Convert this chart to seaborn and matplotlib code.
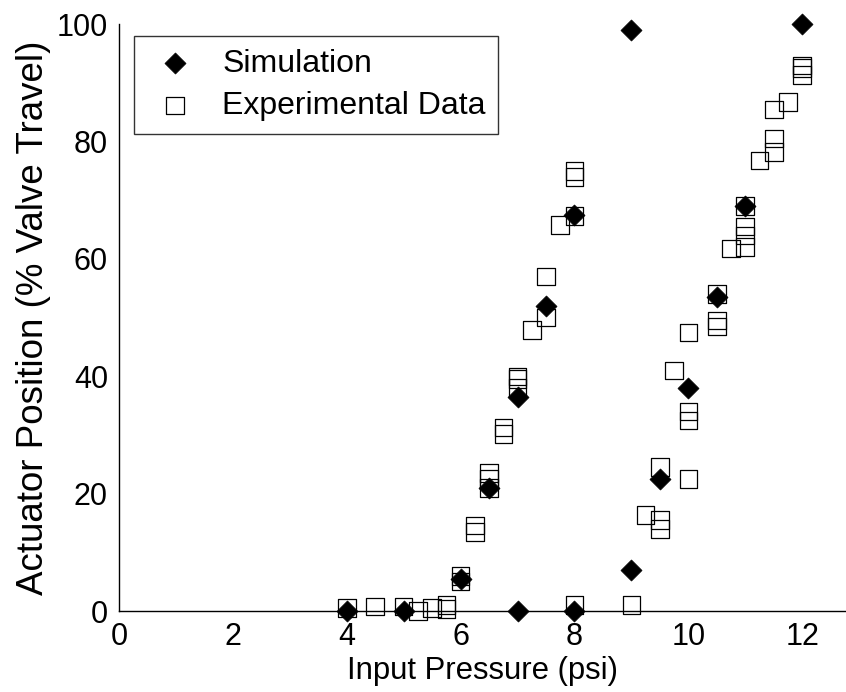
import matplotlib
matplotlib.use("Agg")
import matplotlib.pyplot as plt
import seaborn as sns
import pandas as pd

# Simulation (filled diamonds)
sim_x = [4, 5, 6, 6.5, 7, 7, 7.5, 8, 8, 9, 9, 9.5, 10, 10.5, 11, 12]
sim_y = [0, 0, 5.5, 21, 0, 36.5, 52, 67.5, 0, 99, 7, 22.5, 38, 53.5, 69, 100]

# Experimental data (open squares)
exp_x = [4.0, 4.5, 5.0, 5.25, 5.5, 5.75, 5.75,
         6.0, 6.0, 6.25, 6.25, 6.5, 6.5, 6.5,
         6.75, 6.75, 7.0, 7.0, 7.0, 7.25, 7.5, 7.5, 7.75,
         8.0, 8.0, 8.0, 8.0, 9.0, 9.25, 9.5, 9.5, 9.5, 9.75,
         10.0, 10.0, 10.0, 10.0, 10.5, 10.5, 10.5, 10.75,
         11.0, 11.0, 11.0, 11.0, 11.25, 11.5, 11.5, 11.5, 11.75,
         12.0, 12.0, 12.0]
exp_y = [0.5, 0.8, 0.8, 0.0, 0.5, 1.0, 0.3,
         6.0, 5.0, 14.6, 13.5, 23.5, 22.5, 21.0,
         31.3, 30.2, 38.0, 39.5, 40.0, 47.9, 50.0, 57.0, 65.8,
         67.3, 74.0, 75.0, 1.0, 1.0, 16.4, 24.5, 15.5, 14.0, 41.0,
         22.5, 32.5, 34.0, 47.5, 48.5, 49.5, 54.0, 61.8,
         62.0, 64.0, 65.5, 69.0, 76.8, 78.2, 80.5, 85.5, 86.7,
         91.3, 92.5, 93.0]

x_ticks = [0, 2, 4, 6, 8, 10, 12]
y_ticks = [0, 20, 40, 60, 80, 100]

sim_df = pd.DataFrame({"x": sim_x, "y": sim_y})
exp_df = pd.DataFrame({"x": exp_x, "y": exp_y})

sns.set_style("white")
plt.rcParams["font.family"] = ["Liberation Sans", "DejaVu Sans"]
plt.rcParams["text.color"] = "black"
plt.rcParams["axes.labelcolor"] = "black"

fig = plt.figure(figsize=(8.46, 6.92), dpi=100)
ax = fig.add_axes([0.1407, 0.117, 0.858, 0.848])

sns.scatterplot(data=sim_df, x="x", y="y", ax=ax, marker="D", s=115,
                color="black", edgecolor="black", linewidth=0.5,
                label="Simulation", zorder=3, clip_on=False)
sns.scatterplot(data=exp_df, x="x", y="y", ax=ax, marker="s", s=160,
                facecolors="none", edgecolor="black", linewidth=0.9,
                label="Experimental Data", zorder=2, clip_on=False)

ax.set_xlim(0, 12.75)
ax.set_ylim(0, 100)
ax.set_xticks(x_ticks)
ax.set_yticks(y_ticks)
ax.tick_params(axis="both", direction="in", length=5, width=1,
               labelsize=22, colors="black", pad=8)
for side in ["top", "right"]:
    ax.spines[side].set_visible(False)
for side in ["left", "bottom"]:
    ax.spines[side].set_color("black")
    ax.spines[side].set_linewidth(1.0)

ax.set_xlabel("Input Pressure (psi)", fontsize=22.4, labelpad=3, color="black")
ax.set_ylabel("Actuator Position (% Valve Travel)", fontsize=26.5, labelpad=4,
              color="black")

leg = ax.legend(loc="upper left", bbox_to_anchor=(0.021, 0.98), fontsize=23,
                frameon=True, fancybox=False, edgecolor="black",
                handletextpad=0.6, borderpad=0.4, labelspacing=0.38,
                handlelength=1.75, borderaxespad=0)
leg.get_frame().set_linewidth(1.0)
for t in leg.get_texts():
    t.set_color("black")

fig.savefig("out.png", dpi=100)
